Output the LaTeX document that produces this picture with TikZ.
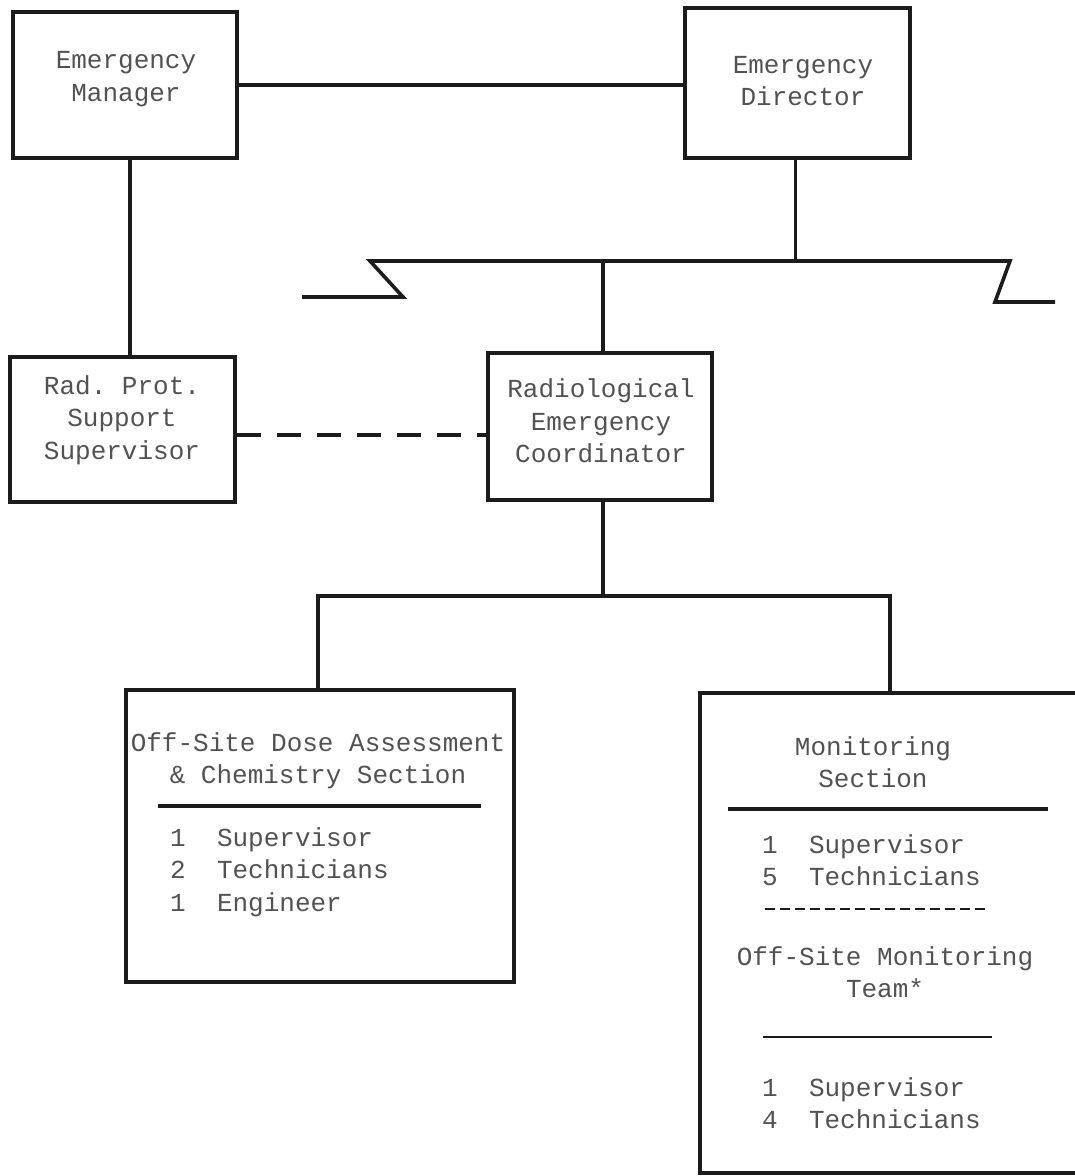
\documentclass[tikz,border=0pt]{standalone}
\usepackage{fontspec}
\setmonofont{Liberation Mono}
\usetikzlibrary{calc}
\definecolor{ink}{HTML}{1C1C1C}
\definecolor{txt}{HTML}{525252}
\begin{document}
\begin{tikzpicture}[x=1pt,y=-1pt,
  box/.style={draw=ink,line width=3.6pt,inner sep=0pt},
  lbl/.style={text=txt,align=center,inner sep=0pt,font=\ttfamily\fontsize{26}{32.5}\selectfont},
  lst/.style={text=txt,align=left,anchor=west,inner sep=0pt,font=\ttfamily\fontsize{26}{32.5}\selectfont},
  conn/.style={draw=ink,line width=3.6pt},
  rule/.style={draw=ink,line width=3.6pt}]
\useasboundingbox[fill=white] (0,0) rectangle (1075,1176);
% boxes
\node[box,minimum width=224pt,minimum height=146pt] (em) at (125,85) {};
\node[box,minimum width=225pt,minimum height=150pt] (ed) at (797.5,83) {};
\node[box,minimum width=225pt,minimum height=145pt] (rp) at (122.5,429.5) {};
\node[box,minimum width=224pt,minimum height=147pt] (rec) at (600,426.5) {};
\node[box,minimum width=388pt,minimum height=292pt] (os) at (320,836) {};
\node[box,minimum width=400pt,minimum height=480pt] (ms) at (900,933) {};
% texts
\node[lbl] (emt) at (126,79) {Emergency\\Manager};
\node[lbl] (edt) at (803,81) {Emergency\\Director};
\node[lbl] (rpt) at (122,420) {Rad. Prot.\\Support\\Supervisor};
\node[lbl] (rect) at (601,421) {Radiological\\Emergency\\Coordinator};
\node[lbl] (ost) at (318,761) {Off-Site Dose Assessment\\\& Chemistry Section};
\node[lst] (osl) at (170,872) {1~~Supervisor\\2~~Technicians\\1~~Engineer};
\node[lbl] (mst) at (873,762) {Monitoring\\Section};
\node[lst] (msl) at (762,860) {1~~Supervisor\\5~~Technicians};
\node[lbl] (mtt) at (885,972) {Off-Site Monitoring\\Team*};
\node[lst] (mtl) at (762,1103) {1~~Supervisor\\4~~Technicians};
% dividers inside boxes
\draw[rule] (158,806) -- (481,806);
\draw[rule] (728,809) -- (1048,809);
\draw[draw=ink,line width=2.6pt,dash pattern=on 10pt off 5pt] (765,909) -- (988,909);
\draw[draw=ink,line width=1.8pt] (763,1037) -- (992,1037);
% connector coordinates
\coordinate (busL) at (370,261);
\coordinate (busR) at (1010,261);
\coordinate (stubL) at (302,297);
\coordinate (stubR) at (1055,302);
\coordinate (b2L) at (318,596);
\coordinate (b2R) at (890,596);
% connectors
\draw[conn] (em.east) -- (em.east -| ed.west);
\draw[conn] ([xshift=5pt]em.south) -- ([xshift=5pt]em.south |- rp.north);
\draw[conn] ([xshift=-2pt]ed.south) -- ([xshift=-2pt]ed.south |- busL);
\draw[conn,line join=miter] (stubL) -- (403,297) -- (busL) -- (busR) -- (995,302) -- (stubR);
\draw[conn] (rec.north -| 603,0) -- (603,261);
\draw[conn,dash pattern=on 24pt off 16pt] ($(rp.east)+(0,5.5)$) -- ($(rp.east -| rec.west)+(0,5.5)$);
\draw[conn] (rec.south -| 603,0) -- (603,596);
\draw[conn,line cap=rect] (b2L) -- (b2R);
\draw[conn] (b2L) -- (b2L |- os.north);
\draw[conn] (b2R) -- (b2R |- ms.north);
\end{tikzpicture}
\end{document}
